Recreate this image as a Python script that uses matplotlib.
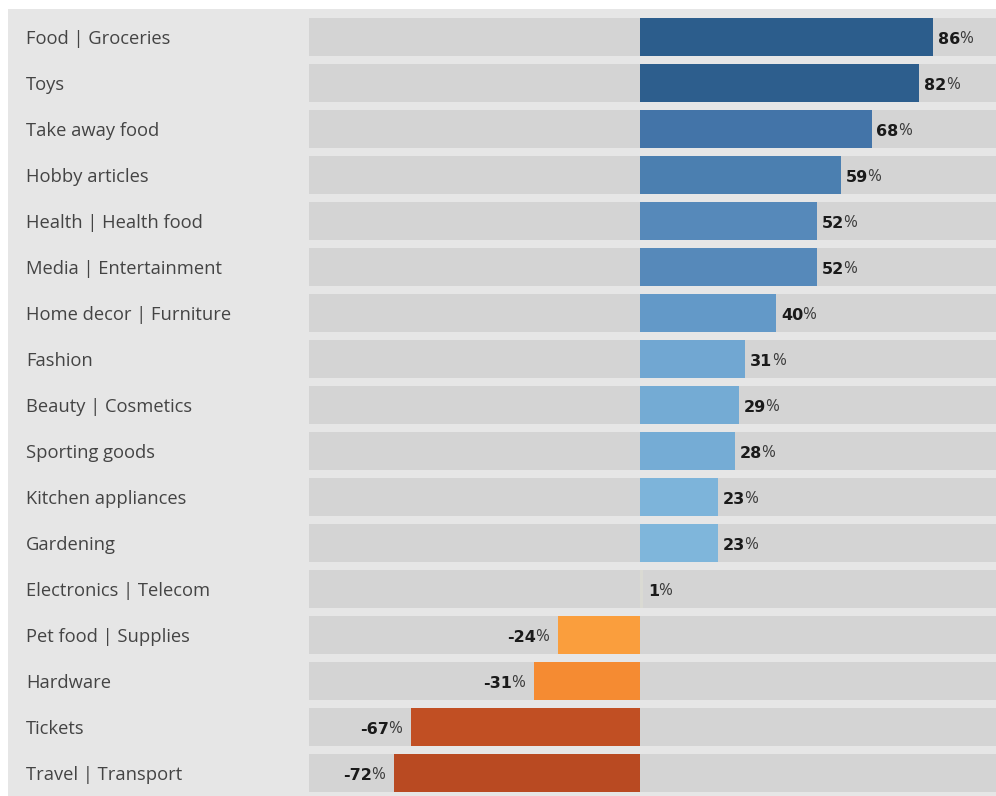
import matplotlib
matplotlib.use("Agg")
import matplotlib.pyplot as plt
import matplotlib.transforms as mtransforms
from matplotlib.patches import Rectangle

categories = ["Food | Groceries", "Toys", "Take away food", "Hobby articles",
              "Health | Health food", "Media | Entertainment", "Home decor | Furniture",
              "Fashion", "Beauty | Cosmetics", "Sporting goods", "Kitchen appliances",
              "Gardening", "Electronics | Telecom", "Pet food | Supplies", "Hardware",
              "Tickets", "Travel | Transport"]
values = [86, 82, 68, 59, 52, 52, 40, 31, 29, 28, 23, 23, 1, -24, -31, -67, -72]
colors = ["#2c5d8c", "#2d5e8d", "#4374a8", "#4b7fb0", "#5689ba", "#5689ba", "#6399c8",
          "#71a7d2", "#74abd4", "#75acd5", "#7db4da", "#7fb6db", "#dadad3",
          "#fa9e3d", "#f58b32", "#c14f23", "#b94a22"]

W, H = 996, 796
fig = plt.figure(figsize=(W / 100, H / 100), dpi=100)
fig.patch.set_facecolor("white")
# panel background
fig.patches.append(Rectangle((8 / W, 0), 1 - 8 / W, 1 - 9 / H, transform=fig.transFigure,
                             facecolor="#e6e6e6", edgecolor="none", zorder=-10))

ax = fig.add_axes([309 / W, 0, 1 - 309 / W, 1 - 14 / H], zorder=5)
ax.set_facecolor("none")
n = len(categories)
ax.set_ylim(n - 0.5, -0.5)
ax.set_xlim(-97.0, 104.5)
for s in ax.spines.values():
    s.set_visible(False)
ax.set_xticks([])
ax.set_yticks([])

bh = 38 / 46
for i in range(n):
    ax.axhspan(i - bh / 2, i + bh / 2, facecolor="#d4d4d4", edgecolor="none", zorder=1)

ax.barh(range(n), values, height=bh, color=colors, edgecolor="none", zorder=2)

font = "Open Sans"
numfont = "DejaVu Sans"
lab_tr = mtransforms.blended_transform_factory(fig.transFigure, ax.transData)
for i, (cat, v) in enumerate(zip(categories, values)):
    ax.annotate(cat, xy=(26 / W, i), xycoords=lab_tr, xytext=(0, -1.5),
                textcoords="offset points", ha="left", va="center",
                fontsize=13.2, color="#444444", family=font, annotation_clip=False)
    txt_num = f"{v}" if v >= 0 else f"-{abs(v)}"
    if v >= 0:
        t = ax.annotate(txt_num, xy=(v, i), xytext=(3.5, -1.5), textcoords="offset points",
                        ha="left", va="center", fontsize=11.5, fontweight="bold",
                        color="#1a1a1a", family=numfont, zorder=3)
        ax.annotate("%", xy=(1, 0.5), xycoords=t, xytext=(-0.5, 0),
                    textcoords="offset points", ha="left", va="center",
                    fontsize=12, color="#3a3a3a", family=font, zorder=3)
    else:
        t = ax.annotate("%", xy=(v, i), xytext=(-6.5, -1.5), textcoords="offset points",
                        ha="right", va="center", fontsize=12, color="#3a3a3a",
                        family=font, zorder=3)
        ax.annotate(txt_num, xy=(0, 0.5), xycoords=t, xytext=(0.5, 0),
                    textcoords="offset points", ha="right", va="center",
                    fontsize=11.5, fontweight="bold", color="#1a1a1a", family=numfont,
                    zorder=3)

fig.savefig("out.png", dpi=100)
